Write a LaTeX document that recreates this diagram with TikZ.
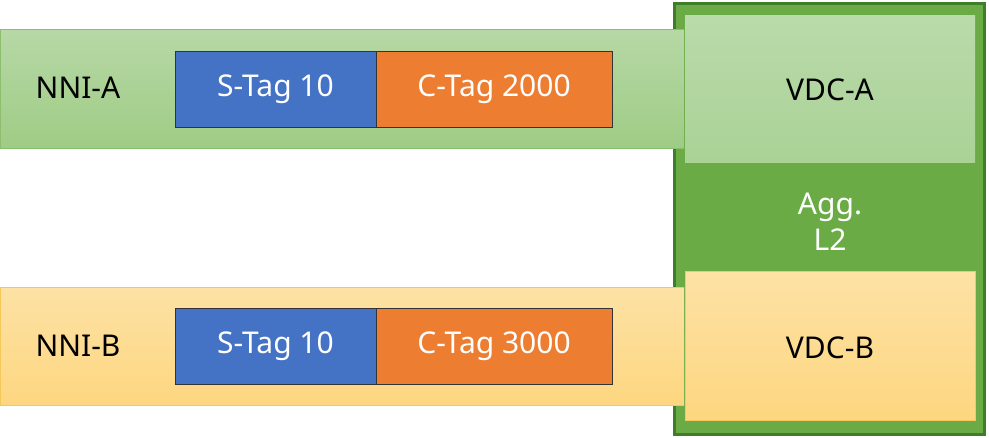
\documentclass[tikz,border=0pt]{standalone}
\usepackage{fontspec}
\setmainfont{Noto Sans}
\definecolor{aggfill}{RGB}{106,171,69}
\definecolor{aggline}{RGB}{62,125,42}
\definecolor{gtop}{RGB}{183,216,166}
\definecolor{gbot}{RGB}{158,204,133}
\definecolor{gline}{RGB}{140,190,110}
\definecolor{vgtop}{RGB}{186,218,170}
\definecolor{vgbot}{RGB}{170,210,150}
\definecolor{otop}{RGB}{253,226,165}
\definecolor{obot}{RGB}{253,214,128}
\definecolor{oline}{RGB}{245,200,90}
\definecolor{stag}{RGB}{68,114,196}
\definecolor{ctag}{RGB}{237,125,49}
\begin{document}
\begin{tikzpicture}[x=1pt,y=-1pt,
  lbl/.style={font=\fontsize{30}{36}\selectfont,text=black},
  tag/.style={draw=black!80,line width=1pt,minimum height=76pt,text=white}]
\useasboundingbox (0,0) rectangle (989,437);
\filldraw[fill=aggfill,draw=aggline,line width=3pt] (674,3) rectangle (984,434);
\shade[top color=gtop,bottom color=gbot] (0,29) rectangle (684,148);
\draw[gline,line width=0.8pt] (684,29) -- (0,29) -- (0,148) -- (684,148);
\shade[top color=otop,bottom color=obot] (0,287) rectangle (684,405);
\draw[oline,line width=0.8pt] (684,287) -- (0,287) -- (0,405) -- (684,405);
\shade[top color=vgtop,bottom color=vgbot] (685,15) rectangle (975,162);
\shade[top color=otop,bottom color=obot] (685,271) rectangle (975,420);
\draw[oline,line width=0.8pt] (685,271) rectangle (975,420);
\node[lbl] (nnia) at (78,88) {NNI-A};
\node[lbl] (nnib) at (78,346) {NNI-B};
\node[lbl,tag,fill=stag,minimum width=201pt] (sa) at (275.5,89) {S-Tag 10};
\node[lbl,tag,fill=ctag,minimum width=236pt] (ca) at (494,89) {C-Tag 2000};
\node[lbl,tag,fill=stag,minimum width=201pt] (sb) at (275.5,346) {S-Tag 10};
\node[lbl,tag,fill=ctag,minimum width=236pt] (cb) at (494,346) {C-Tag 3000};
\node[lbl] (vdca) at (830,90) {VDC-A};
\node[lbl] (vdcb) at (830,348) {VDC-B};
\node[lbl,text=white,align=center] (l2) at (830,222) {Agg.\\L2};
\end{tikzpicture}
\end{document}
